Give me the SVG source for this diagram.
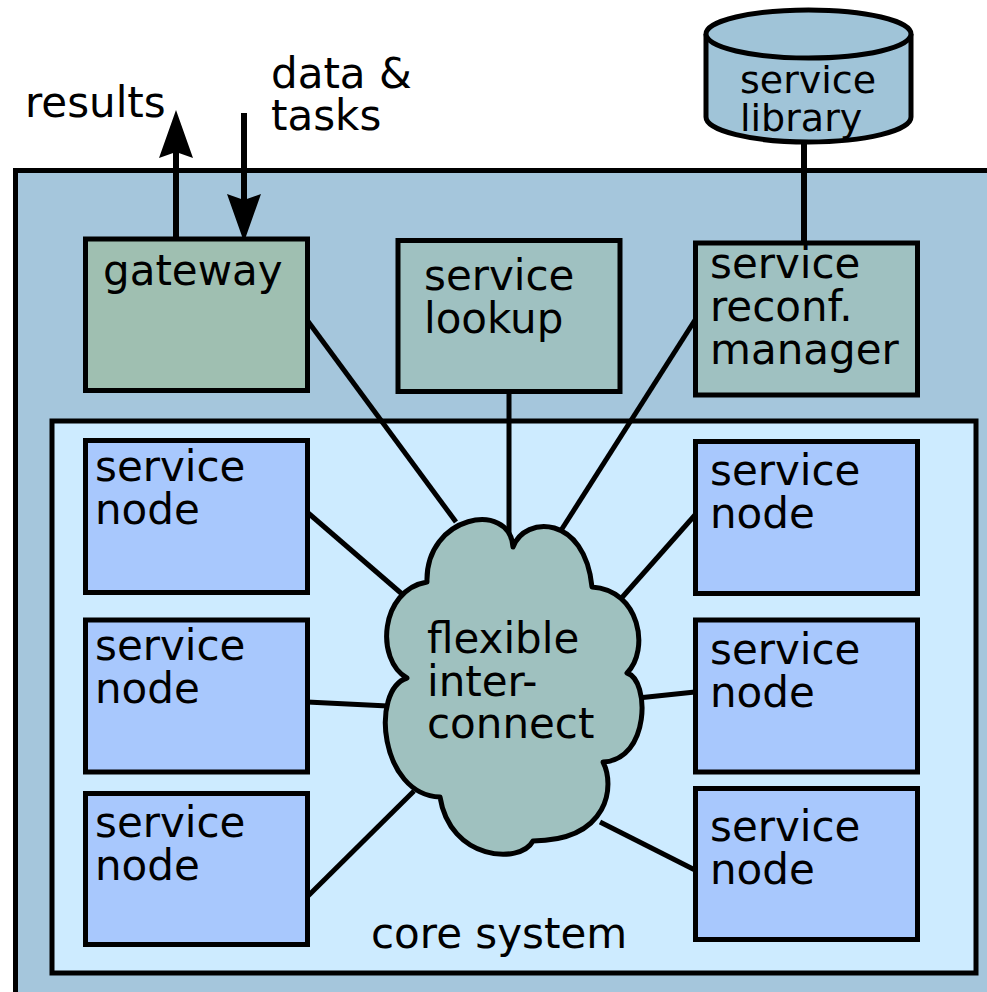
<svg xmlns="http://www.w3.org/2000/svg" width="987" height="992" viewBox="0 0 987 992">
  <style>
    text { font-family: "DejaVu Sans", "Liberation Sans", sans-serif; font-size: 42px; fill: #000; }
    .box { stroke: #000; stroke-width: 5; }
    .node { fill: #a8c8fd; stroke: #000; stroke-width: 5; }
    .ctrl { fill: #9fc1c1; stroke: #000; stroke-width: 5; }
    .link { stroke: #000; stroke-width: 5; fill: none; }
    .io { stroke: #000; stroke-width: 6; fill: none; }
    .head { fill: #000; }
  </style>

  <rect width="987" height="992" fill="#fff"/>

  <!-- enclosing system and core system frames -->
  <g id="system">
    <rect class="box" x="15.5" y="170.5" width="1000" height="900" fill="#a5c6dc"/>
  </g>
  <g id="core-system">
    <rect class="box" x="52" y="421" width="924" height="552" fill="#cdebff"/>
    <text x="371" y="948">core system</text>
  </g>

  <!-- connectors -->
  <g id="connectors">
    <line class="link" x1="307" y1="320" x2="456" y2="522"/>
    <line class="link" x1="509" y1="392" x2="509" y2="540"/>
    <line class="link" x1="695" y1="320" x2="560" y2="532"/>
    <line class="link" x1="307" y1="512" x2="402" y2="594"/>
    <line class="link" x1="307" y1="702" x2="388" y2="706"/>
    <line class="link" x1="307" y1="897" x2="414" y2="791"/>
    <line class="link" x1="695" y1="515" x2="618" y2="602"/>
    <line class="link" x1="695" y1="692" x2="638" y2="698"/>
    <line class="link" x1="695" y1="870" x2="600" y2="822"/>
    <line class="io" x1="804" y1="140" x2="804" y2="242"/>
    <!-- results (out) and data & tasks (in) -->
    <line class="io" x1="176" y1="238" x2="176" y2="150"/>
    <path class="head" d="M176,110 L193,158 L176,152 L159,158 Z"/>
    <line class="io" x1="244" y1="113" x2="244" y2="200"/>
    <path class="head" d="M244,242 L227,194 L244,200 L261,194 Z"/>
  </g>

  <g id="results-label"><text x="25" y="117">results</text></g>
  <g id="data-tasks-label">
    <text x="271" y="88">data &amp;</text>
    <text x="271" y="130">tasks</text>
  </g>

  <g id="service-library">
    <path d="M706,34 L706,117 A102.5,25 0 0 0 911,117 L911,34" fill="#a0c4d8" stroke="#000" stroke-width="5"/>
    <ellipse cx="808.5" cy="34" rx="102.5" ry="24" fill="#a0c4d8" stroke="#000" stroke-width="5"/>
    <text x="740" y="93" style="font-size:38px">service</text>
    <text x="740" y="131" style="font-size:38px">library</text>
  </g>

  <g id="gateway">
    <rect class="box" x="85.5" y="239" width="222" height="151.5" fill="#9fbfb1"/>
    <text x="103" y="285">gateway</text>
  </g>

  <g id="service-lookup">
    <rect class="ctrl" x="398" y="240.5" width="222" height="151"/>
    <text x="424" y="290">service</text>
    <text x="424" y="333">lookup</text>
  </g>

  <g id="reconf-manager">
    <rect class="ctrl" x="695.5" y="243" width="222" height="152"/>
    <text x="710" y="278">service</text>
    <text x="710" y="321">reconf.</text>
    <text x="710" y="364">manager</text>
  </g>

  <g id="node-l1">
    <rect class="node" x="85.5" y="440.5" width="222" height="152"/>
    <text x="95" y="481">service</text>
    <text x="95" y="524">node</text>
  </g>
  <g id="node-l2">
    <rect class="node" x="85.5" y="620" width="222" height="152"/>
    <text x="95" y="660">service</text>
    <text x="95" y="703">node</text>
  </g>
  <g id="node-l3">
    <rect class="node" x="85.5" y="793.5" width="222" height="151"/>
    <text x="95" y="837">service</text>
    <text x="95" y="880">node</text>
  </g>

  <g id="node-r1">
    <rect class="node" x="695.5" y="441.5" width="222" height="152"/>
    <text x="710" y="485">service</text>
    <text x="710" y="528">node</text>
  </g>
  <g id="node-r2">
    <rect class="node" x="695.5" y="620" width="222" height="152"/>
    <text x="710" y="664">service</text>
    <text x="710" y="707">node</text>
  </g>
  <g id="node-r3">
    <rect class="node" x="695.5" y="788.5" width="222" height="151"/>
    <text x="710" y="841">service</text>
    <text x="710" y="884">node</text>
  </g>

  <g id="interconnect">
    <path d="M427,582 C425,515 510,500 513,547 C525,515 585,515 592,587 C640,590 650,650 627,673 C650,680 650,760 603,762 C615,785 610,840 533,841 C520,865 450,860 440,797 C380,795 370,690 407,678 C375,660 380,590 427,582 Z" fill="#9fc1bf" stroke="#000" stroke-width="5" stroke-linejoin="round"/>
    <text x="427" y="653">flexible</text>
    <text x="427" y="696">inter-</text>
    <text x="427" y="738">connect</text>
  </g>
</svg>
